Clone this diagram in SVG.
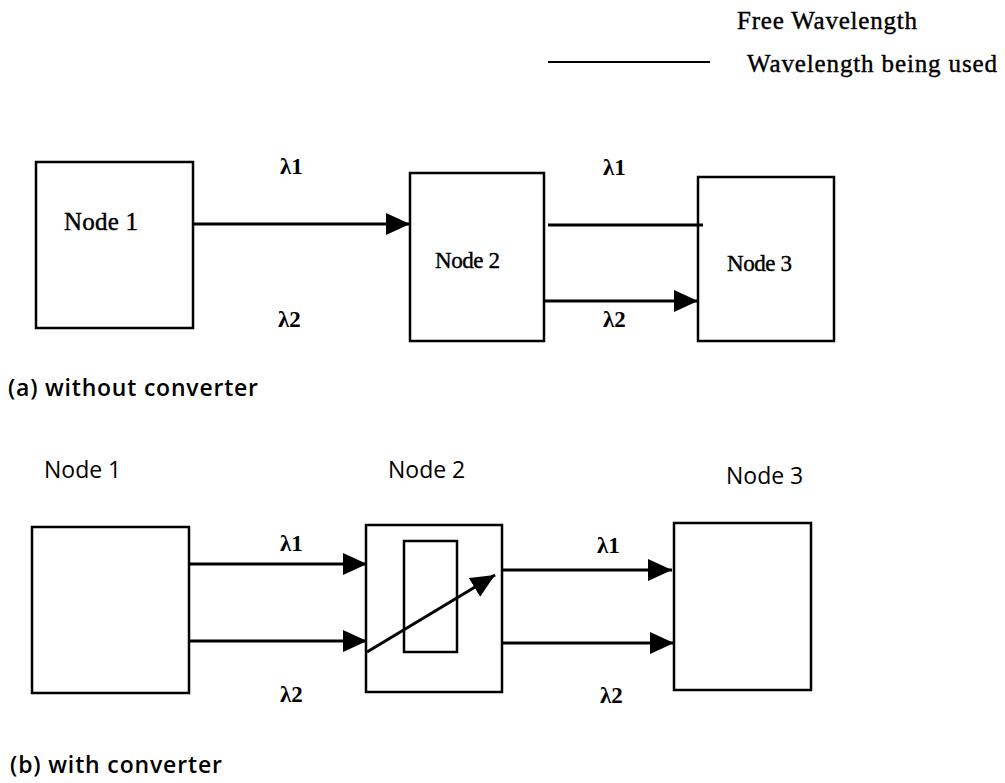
<svg xmlns="http://www.w3.org/2000/svg" width="1005" height="783" viewBox="0 0 1005 783">
<style>
.box{fill:#fff;stroke:#000;stroke-width:2.5}
.ln{fill:none;stroke:#000;stroke-width:3}
.serif{font-family:"Liberation Serif","Times New Roman",serif;fill:#000;stroke:#000;stroke-width:0.4}
.sans{font-family:"Open Sans","Noto Sans",sans-serif;fill:#000;font-weight:600}
.nlab{font-family:"Open Sans","Noto Sans",sans-serif;fill:#000;font-weight:400;font-size:23px}
.lam{font-family:"Liberation Serif","Times New Roman",serif;font-size:23px;font-weight:bold;fill:#000}
</style>
<defs>
<marker id="ah" markerUnits="userSpaceOnUse" markerWidth="26" markerHeight="22" refX="24" refY="11" orient="auto">
<path d="M0,0 L24,11 L0,22 Z" fill="#000"/>
</marker>
</defs>
<rect width="1005" height="783" fill="#fff"/>

<g id="legend">
<text class="serif" x="737" y="29" font-size="25" textLength="180">Free Wavelength</text>
<line x1="548" y1="62" x2="710" y2="62" stroke="#000" stroke-width="2"/>
<text class="serif" x="747" y="72" font-size="25" textLength="250">Wavelength being used</text>
</g>

<g id="a-node1"><rect class="box" x="36" y="162" width="157" height="166"/><text class="serif" x="64" y="230" font-size="25" textLength="74">Node 1</text></g>
<g id="a-node2"><rect class="box" x="410" y="173" width="134" height="168"/><text class="serif" x="435" y="268" font-size="23" textLength="65">Node 2</text></g>
<g id="a-node3"><rect class="box" x="698" y="177" width="136" height="164"/><text class="serif" x="727" y="271" font-size="23" textLength="65">Node 3</text></g>

<g id="a-connectors">
<line class="ln" x1="193" y1="224" x2="410" y2="224" marker-end="url(#ah)"/>
<line class="ln" x1="548" y1="225" x2="703" y2="225"/>
<line class="ln" x1="544" y1="301" x2="698" y2="301" marker-end="url(#ah)"/>
</g>
<g id="a-labels">
<text class="lam" x="280" y="174">λ1</text>
<text class="lam" x="278" y="327">λ2</text>
<text class="lam" x="603" y="175">λ1</text>
<text class="lam" x="603" y="327">λ2</text>
<text class="sans" x="8" y="396" font-size="23" textLength="250">(a) without converter</text>
</g>

<g id="b-node1"><text class="nlab" x="44" y="478">Node 1</text><rect class="box" x="32" y="527" width="157" height="166"/></g>
<g id="b-node2"><text class="nlab" x="388" y="478" font-size="24">Node 2</text><rect class="box" x="366" y="525" width="136" height="167"/><rect class="box" x="404" y="541" width="53" height="111"/></g>
<g id="b-node3"><text class="nlab" x="726" y="484">Node 3</text><rect class="box" x="674" y="523" width="137" height="167"/></g>

<g id="b-connectors">
<line class="ln" x1="189" y1="564" x2="367" y2="564" marker-end="url(#ah)"/>
<line class="ln" x1="189" y1="641" x2="367" y2="641" marker-end="url(#ah)"/>
<line class="ln" x1="367" y1="652" x2="495" y2="575" marker-end="url(#ah)"/>
<line class="ln" x1="502" y1="570" x2="672" y2="570" marker-end="url(#ah)"/>
<line class="ln" x1="502" y1="643" x2="674" y2="643" marker-end="url(#ah)"/>
</g>
<g id="b-labels">
<text class="lam" x="280" y="551">λ1</text>
<text class="lam" x="280" y="702">λ2</text>
<text class="lam" x="597" y="553">λ1</text>
<text class="lam" x="600" y="703">λ2</text>
<text class="sans" x="10" y="773" font-size="23" textLength="212">(b) with converter</text>
</g>
</svg>
